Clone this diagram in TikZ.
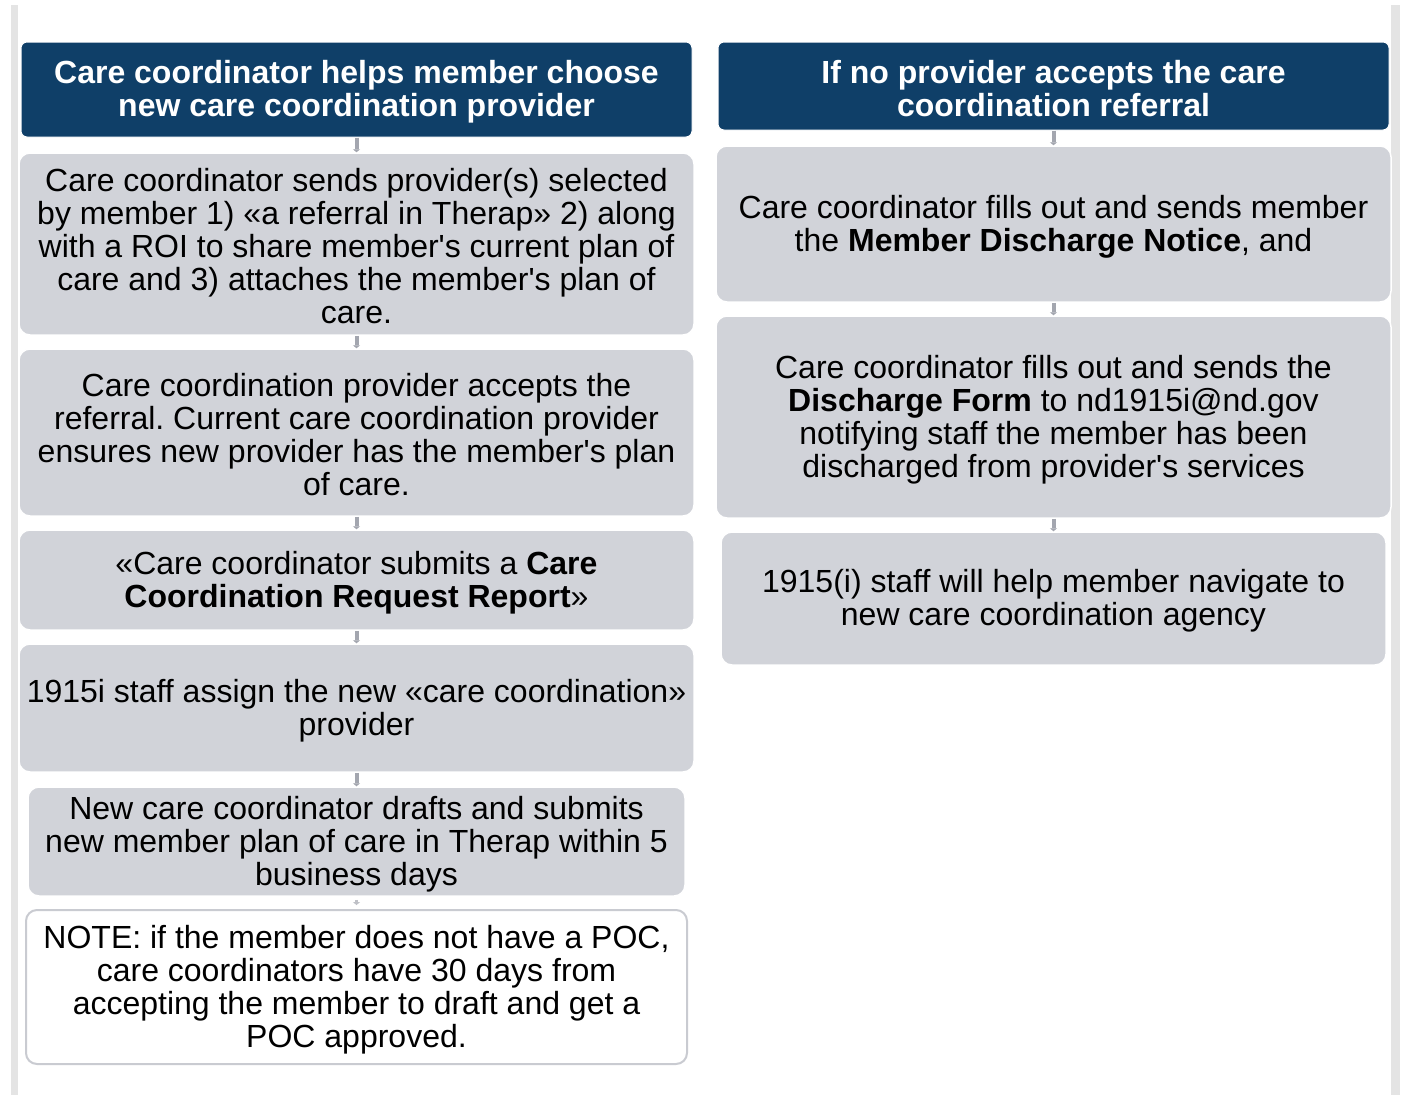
\documentclass[tikz,border=0pt]{standalone}
\usepackage{fontspec}
\setmainfont{Liberation Sans}
\usetikzlibrary{arrows.meta}
\definecolor{navy}{HTML}{0F3F68}
\definecolor{boxgray}{HTML}{D1D3D9}
\definecolor{notegray}{HTML}{C9CBD1}
\definecolor{conngray}{HTML}{A3A6AF}
\definecolor{sidegray}{HTML}{E4E4E4}
\newcommand{\ap}{\textquotesingle}
\frenchspacing
\tikzset{
  basefont/.style={font=\fontsize{32}{33}\selectfont},
  hdr/.style={draw=white, line width=1pt, fill=navy, rounded corners=6pt, inner sep=0pt},
  hdrtext/.style={text=white, font=\fontsize{32}{33}\selectfont\bfseries, align=center, inner sep=0pt},
  gbox/.style={draw=white, line width=1.5pt, fill=boxgray, rounded corners=11pt, inner sep=0pt},
  notebox/.style={draw=notegray, line width=2pt, fill=white, rounded corners=11pt, inner sep=0pt},
  btext/.style={basefont, align=center, inner sep=0pt},
  conn/.style={draw=conngray, line width=4pt, -{Triangle[width=7pt,length=3pt]}},
  sidebar/.style={fill=sidegray, draw=none}
}
% \flowbox{box style}{text style}{name}{cx}{cy}{w}{h}{text}
\newcommand{\flowbox}[8]{%
  \node[#1, minimum width=#6pt, minimum height=#7pt] (#3) at (#4,#5) {};
  \node[#2] (#3T) at ([yshift=-2.5pt]#3.center) {#8};
}
\begin{document}
\begin{tikzpicture}[x=1pt,y=1pt]
\useasboundingbox[fill=white] (0,0) rectangle (1402,-1095);
\fill[sidebar] (11,-5) rectangle (18,-1095);
\fill[sidebar] (1391,-5) rectangle (1400,-1095);
% left column
\flowbox{hdr}{hdrtext}{hL}{356.5}{-89.5}{671}{95}
  {Care coordinator helps member choose\\new care coordination provider}
\flowbox{gbox}{btext}{l1}{356.5}{-244}{675}{182}
  {Care coordinator sends provider(s) selected\\by member 1) «a referral in Therap» 2) along\\with a ROI to share member\ap s current plan of\\care and 3) attaches the member\ap s plan of\\care.}
\flowbox{gbox}{btext}{l2}{356.5}{-432.5}{675}{167}
  {Care coordination provider accepts the\\referral. Current care coordination provider\\ensures new provider has the member\ap s plan\\of care.}
\flowbox{gbox}{btext}{l3}{356.5}{-580}{675}{100}
  {«Care coordinator submits a \textbf{Care}\\\textbf{Coordination Request Report}»}
\flowbox{gbox}{btext}{l4}{356.5}{-708}{675}{128}
  {1915i staff assign the new «care coordination»\\provider}
\flowbox{gbox}{btext}{l5}{356.5}{-841.5}{657}{109}
  {New care coordinator drafts and submits\\new member plan of care in Therap within 5\\business days}
\flowbox{notebox}{btext}{note}{356.5}{-987}{661}{154}
  {NOTE: if the member does not have a POC,\\care coordinators have 30 days from\\accepting the member to draft and get a\\POC approved.}
% right column
\flowbox{hdr}{hdrtext}{hR}{1053.5}{-86}{671}{88}
  {If no provider accepts the care\\coordination referral}
\flowbox{gbox}{btext}{r1}{1053.5}{-224}{675}{156}
  {Care coordinator fills out and sends member\\the \textbf{Member Discharge Notice}, and}
\flowbox{gbox}{btext}{r2}{1053.5}{-417}{675}{202}
  {Care coordinator fills out and sends the\\\textbf{Discharge Form} to nd1915i@nd.gov\\notifying staff the member has been\\discharged from provider\ap s services}
\flowbox{gbox}{btext}{r3}{1053.5}{-598.5}{665}{133}
  {1915(i) staff will help member navigate to\\new care coordination agency}
% connectors
\draw[conn] (hL.south) -- (l1.north);
\draw[conn] (l1.south) -- (l2.north);
\draw[conn] (l2.south) -- (l3.north);
\draw[conn] (l3.south) -- (l4.north);
\draw[conn] (l4.south) -- (l5.north);
\draw[conn, line width=3pt, draw=conngray!70, shorten <=3pt, shorten >=4pt] (l5.south) -- (note.north);
\draw[conn] (hR.south) -- (r1.north);
\draw[conn] (r1.south) -- (r2.north);
\draw[conn] (r2.south) -- (r3.north);
\end{tikzpicture}
\end{document}
